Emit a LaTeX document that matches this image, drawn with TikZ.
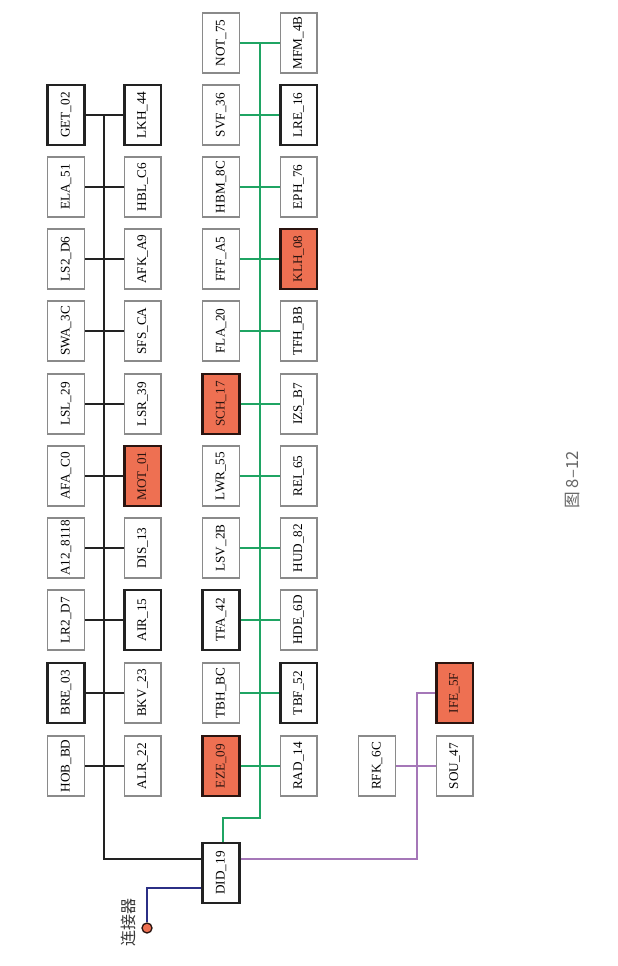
\documentclass[tikz,border=0pt]{standalone}
\usepackage{fontspec}
\usepackage{graphicx}
\setmainfont{Liberation Serif}
\newfontfamily\cjk{Noto Sans CJK SC}
\definecolor{boxgray}{HTML}{8A8A8A}
\definecolor{hot}{HTML}{EE7052}
\definecolor{hotline}{HTML}{2A1410}
\definecolor{busblack}{HTML}{222222}
\definecolor{busgreen}{HTML}{1FA463}
\definecolor{buspurple}{HTML}{A577B8}
\definecolor{busblue}{HTML}{2B2F85}
\tikzset{
  ecu/.style={draw=boxgray, line width=1pt, fill=white, minimum width=27.5pt, minimum height=45pt, inner sep=0pt, font=\fontsize{9.9}{10}\selectfont},
  ecubold/.style={ecu, draw=busblack, line width=2pt},
  ecuhot/.style={ecu, draw=hotline, line width=2pt, fill=hot, text=hotline},
  blackbus/.style={draw=busblack, line width=1.7pt},
  greenbus/.style={draw=busgreen, line width=1.7pt},
  purplebus/.style={draw=buspurple, line width=1.7pt},
  bluebus/.style={draw=busblue, line width=1.7pt},
}
\newcommand{\rt}[1]{\rotatebox{90}{#1}}
\begin{document}
\begin{tikzpicture}[x=0.75pt,y=-0.75pt]
\useasboundingbox (0,0) rectangle (617,966);
% left black network
\node[ecubold] (GET) at (66,115) {\rt{GET\_02}};
\node[ecubold] (LKH) at (142.5,115) {\rt{LKH\_44}};
\node[ecu] (ELA) at (66,187) {\rt{ELA\_51}};
\node[ecu] (HBL) at (142.5,187) {\rt{HBL\_C6}};
\node[ecu] (LS2) at (66,259) {\rt{LS2\_D6}};
\node[ecu] (AFK) at (142.5,259) {\rt{AFK\_A9}};
\node[ecu] (SWA) at (66,331) {\rt{SWA\_3C}};
\node[ecu] (SFS) at (142.5,331) {\rt{SFS\_CA}};
\node[ecu] (LSL) at (66,404) {\rt{LSL\_29}};
\node[ecu] (LSR) at (142.5,404) {\rt{LSR\_39}};
\node[ecu] (AFA) at (66,476) {\rt{AFA\_C0}};
\node[ecuhot] (MOT) at (142.5,476) {\rt{MOT\_01}};
\node[ecu] (A12) at (66,548) {\rt{A12\_8118}};
\node[ecu] (DIS) at (142.5,548) {\rt{DIS\_13}};
\node[ecu] (LR2) at (66,620) {\rt{LR2\_D7}};
\node[ecubold] (AIR) at (142.5,620) {\rt{AIR\_15}};
\node[ecubold] (BRE) at (66,693) {\rt{BRE\_03}};
\node[ecu] (BKV) at (142.5,693) {\rt{BKV\_23}};
\node[ecu] (HOB) at (66,766) {\rt{HOB\_BD}};
\node[ecu] (ALR) at (142.5,766) {\rt{ALR\_22}};
% right green network
\node[ecu] (NOT) at (221,43) {\rt{NOT\_75}};
\node[ecu] (MFM) at (298.5,43) {\rt{MFM\_4B}};
\node[ecu] (SVF) at (221,115) {\rt{SVF\_36}};
\node[ecubold] (LRE) at (298.5,115) {\rt{LRE\_16}};
\node[ecu] (HBM) at (221,187) {\rt{HBM\_8C}};
\node[ecu] (EPH) at (298.5,187) {\rt{EPH\_76}};
\node[ecu] (FFF) at (221,259) {\rt{FFF\_A5}};
\node[ecuhot] (KLH) at (298.5,259) {\rt{KLH\_08}};
\node[ecu] (FLA) at (221,331) {\rt{FLA\_20}};
\node[ecu] (TFH) at (298.5,331) {\rt{TFH\_BB}};
\node[ecuhot] (SCH) at (221,404) {\rt{SCH\_17}};
\node[ecu] (IZS) at (298.5,404) {\rt{IZS\_B7}};
\node[ecu] (LWR) at (221,476) {\rt{LWR\_55}};
\node[ecu] (REI) at (298.5,476) {\rt{REI\_65}};
\node[ecu] (LSV) at (221,548) {\rt{LSV\_2B}};
\node[ecu] (HUD) at (298.5,548) {\rt{HUD\_82}};
\node[ecubold] (TFA) at (221,620) {\rt{TFA\_42}};
\node[ecu] (HDE) at (298.5,620) {\rt{HDE\_6D}};
\node[ecu] (TBH) at (221,693) {\rt{TBH\_BC}};
\node[ecubold] (TBF) at (298.5,693) {\rt{TBF\_52}};
\node[ecuhot] (EZE) at (221,766) {\rt{EZE\_09}};
\node[ecu] (RAD) at (298.5,766) {\rt{RAD\_14}};
% purple
\node[ecu] (RFK) at (377,766) {\rt{RFK\_6C}};
\node[ecu] (SOU) at (454.5,766) {\rt{SOU\_47}};
\node[ecuhot] (IFE) at (454.5,693) {\rt{IFE\_5F}};
% gateway
\node[ecubold] (DID) at (221,873) {\rt{DID\_19}};
% bus coordinates
\coordinate (btop) at (104,115);
\coordinate (bcorner) at (104,859);
\coordinate (g1) at (223,818);
\coordinate (g2) at (260,818);
\coordinate (gtop) at (260,43);
\coordinate (p1) at (417,859);
\coordinate (p2) at (417,693);
\coordinate (c1) at (147,888);
\node[circle, draw=hotline, line width=1pt, fill=hot, minimum size=7.5pt, inner sep=0pt] (CON) at (147,928) {};
\node[text=busblack!90, font=\cjk\fontsize{12}{12}\selectfont, rotate=90] (CONL) at (128,922) {连接器};
\node[text=black!60, font=\cjk\fontsize{12.5}{12.5}\selectfont, rotate=90] (CAP) at (573,480) {图 8–12};
% black bus
\begin{scope}[blackbus]
\draw (btop) -- (bcorner) -- (bcorner -| DID.west);
\foreach \a/\b in {GET/LKH,ELA/HBL,LS2/AFK,SWA/SFS,LSL/LSR,AFA/MOT,A12/DIS,LR2/AIR,BRE/BKV,HOB/ALR}
  \draw (\a.east) -- (\b.west);
\end{scope}
% green bus
\begin{scope}[greenbus]
\draw (DID.north -| g1) -- (g1) -- (g2) -- (gtop);
\foreach \a/\b in {NOT/MFM,SVF/LRE,HBM/EPH,FFF/KLH,FLA/TFH,SCH/IZS,LWR/REI,LSV/HUD,TFA/HDE,TBH/TBF,EZE/RAD}
  \draw (\a.east) -- (\b.west);
\end{scope}
% purple bus
\begin{scope}[purplebus]
\draw (DID.east |- bcorner) -- (p1) -- (p2) -- (IFE.west);
\draw (RFK.east) -- (SOU.west);
\end{scope}
% blue
\draw[bluebus] (DID.west |- c1) -- (c1) -- (CON.north);
\end{tikzpicture}
\end{document}
